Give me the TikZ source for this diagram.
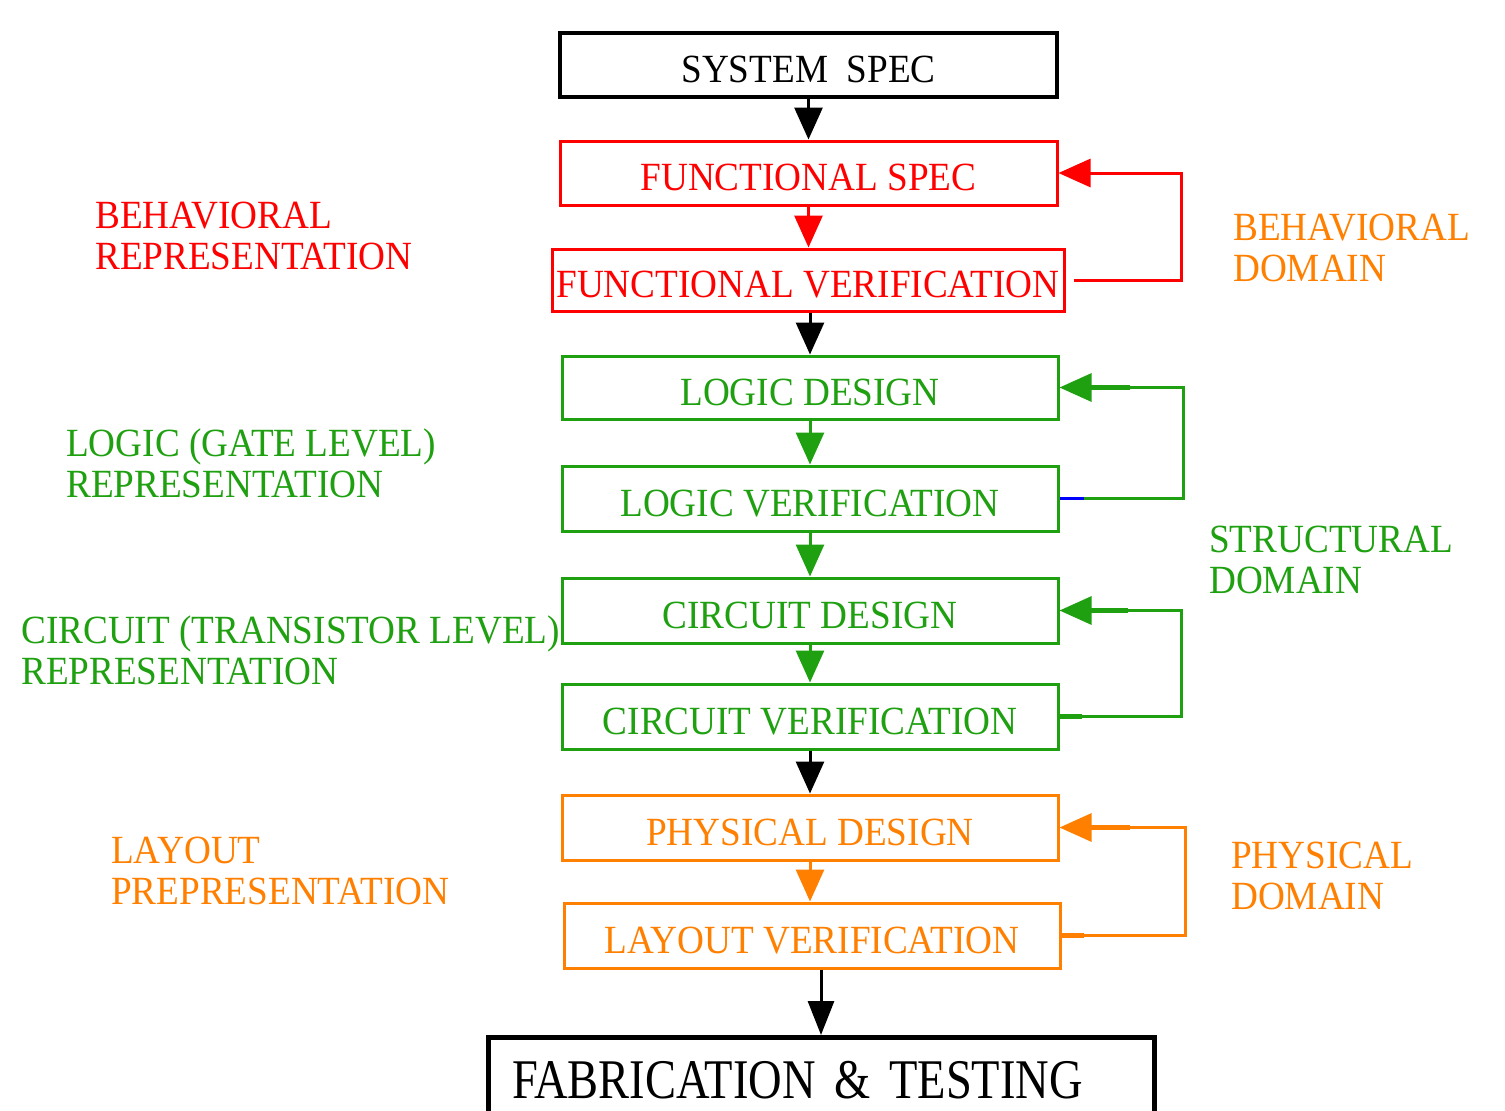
\documentclass[tikz,border=0pt]{standalone}
\usepackage{fontspec}
\setmainfont{Liberation Serif}[FakeStretch=0.93]
\newfontfamily\fabfont{Liberation Serif}[FakeStretch=0.83]
\usetikzlibrary{arrows.meta}
\definecolor{fred}{RGB}{255,0,0}
\definecolor{fgreen}{RGB}{30,160,16}
\definecolor{forange}{RGB}{255,128,0}
\definecolor{fblue}{RGB}{0,0,255}
\tikzset{
  stage/.style={draw, line width=3pt, inner sep=0pt, minimum width=496pt, minimum height=65pt,
    text height=35pt, text depth=0pt, font=\fontsize{40}{41}\selectfont},
  sidelabel/.style={anchor=base west, align=left, inner sep=0pt, font=\fontsize{40}{41}\selectfont},
  flow/.style={line width=3pt, -{Triangle[length=32pt,width=28pt]}},
  loop/.style={line width=3pt, -{Triangle[length=32pt,width=28pt]}},
}
\begin{document}
\begin{tikzpicture}[x=1pt,y=-1pt]
\useasboundingbox (0,0) rectangle (1505,1111);
\clip (0,0) rectangle (1505,1111);
\fill[white] (0,0) rectangle (1505,1111);

% main flow of design stages
\node[stage, line width=3.5pt, minimum width=497pt, minimum height=64pt] (sys) at (808.5,65) {SYSTEM\ \ SPEC};
\node[stage, fred, text=fred, minimum width=497pt, minimum height=64pt] (fspec) at (808.5,173) {FUNCTIONAL SPEC};
\node[stage, fred, text=fred, minimum width=512pt, minimum height=62pt] (fver) at (808,280) {FUNCTIONAL VERIFICATION};
\node[stage, fgreen, text=fgreen, minimum height=63pt] (ldes) at (810,387.5) {LOGIC DESIGN};
\node[stage, fgreen, text=fgreen] (lver) at (810,498.5) {LOGIC VERIFICATION};
\node[stage, fgreen, text=fgreen] (cdes) at (810,610.5) {CIRCUIT DESIGN};
\node[stage, fgreen, text=fgreen] (cver) at (810,716.5) {CIRCUIT VERIFICATION};
\node[stage, forange, text=forange] (pdes) at (810,827.5) {PHYSICAL DESIGN};
\node[stage, forange, text=forange] (lyver) at (812,935.5) {LAYOUT VERIFICATION};
\node[draw, line width=5pt, anchor=north, inner ysep=0pt, inner xsep=24pt,
      text width=618pt, align=left, text height=61pt, text depth=60pt,
      font=\fabfont\fontsize{56}{60}\selectfont] (fab) at (821,1035) {FABRICATION \& TESTING};

% downward arrows
\draw[flow] (sys.south) -- (fspec.north);
\draw[flow, fred] (fspec.south) -- (fspec.south |- fver.north);
\draw[flow] (fver.south -| ldes.north) -- (ldes.north);
\draw[flow, fgreen] (ldes.south) -- (lver.north);
\draw[flow, fgreen] (lver.south) -- (cdes.north);
\draw[flow, fgreen] (cdes.south) -- (cver.north);
\draw[flow] (cver.south) -- (pdes.north);
\draw[flow, forange] (pdes.south) -- (pdes.south |- lyver.north);
\draw[line width=3pt, -{Triangle[length=34pt,width=26pt]}] (lyver.south -| fab.north) -- (fab.north);

% feedback loops
\coordinate (rx) at (1181,0);
\coordinate (gx) at (1183,0);
\coordinate (cx) at (1181,0);
\coordinate (ox) at (1185,0);

\draw[loop, fred] ([xshift=8pt]fver.east) -- (fver.east -| rx) -- (fspec.east -| rx) -- (fspec.east);

\draw[loop, fgreen] ([xshift=24pt]lver.east) -- (lver.east -| gx) -- (ldes.east -| gx) -- (ldes.east);
\draw[line width=3pt, fblue] (lver.east) -- ([xshift=24pt]lver.east);
\draw[line width=5pt, fgreen] ([xshift=30pt]ldes.east) -- ([xshift=70pt]ldes.east);

\draw[loop, fgreen] (cver.east) -- (cver.east -| cx) -- (cdes.east -| cx) -- (cdes.east);
\draw[line width=5pt, fgreen] ([xshift=-3pt]cver.east) -- ([xshift=22pt]cver.east);
\draw[line width=5pt, fgreen] ([xshift=30pt]cdes.east) -- ([xshift=68pt]cdes.east);

\draw[loop, forange] (lyver.east) -- (lyver.east -| ox) -- (pdes.east -| ox) -- (pdes.east);
\draw[line width=5pt, forange] (lyver.east) -- ([xshift=22pt]lyver.east);
\draw[line width=5pt, forange] ([xshift=30pt]pdes.east) -- ([xshift=70pt]pdes.east);

% representation labels (left); base anchor sits on the last line
\node[sidelabel, text=fred] (lbeh) at (95,269) {BEHAVIORAL\\REPRESENTATION};
\node[sidelabel, text=fgreen] (llog) at (66,497) {LOGIC (GATE LEVEL)\\REPRESENTATION};
\node[sidelabel, text=fgreen] (lcir) at (21,684) {CIRCUIT (TRANSISTOR LEVEL)\\REPRESENTATION};
\node[sidelabel, text=forange] (llay) at (111,904) {LAYOUT\\PREPRESENTATION};

% domain labels (right)
\node[sidelabel, text=forange] (dbeh) at (1233,281) {BEHAVIORAL\\DOMAIN};
\node[sidelabel, text=fgreen] (dstr) at (1209,593) {STRUCTURAL\\DOMAIN};
\node[sidelabel, text=forange] (dphy) at (1231,909) {PHYSICAL\\DOMAIN};
\end{tikzpicture}
\end{document}
